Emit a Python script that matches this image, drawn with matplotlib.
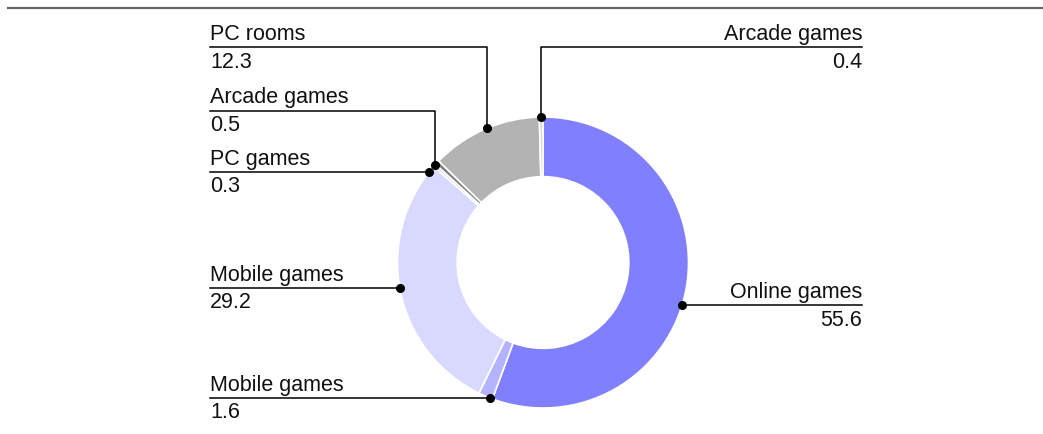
import numpy as np
import matplotlib.pyplot as plt

# Data (clockwise from 12 o'clock)
labels = ["Online games", "Mobile games", "Mobile games", "PC games",
          "Arcade games", "PC rooms", "Arcade games"]
values = [55.6, 1.6, 29.2, 0.3, 0.5, 12.3, 0.4]
colors = ["#8080ff", "#b3b3ff", "#d9d9ff", "#d9d9d9",
          "#808080", "#b3b3b3", "#d9d9d9"]

# label layout: side, line y (px from top), elbow x (px) or None
label_side = ["right", "left", "left", "left", "left", "left", "right"]
label_line_y = [305, 398, 288, 172, 110.5, 47, 47]
label_elbow_x = [None, None, None, None, 435, 487, 541]

W, H = 1043, 434
cx, cy, R = 543, H - 262.5, 145.5
left_x, right_x = 210, 862

fig = plt.figure(figsize=(W / 100, H / 100), dpi=100)
ax = fig.add_axes([0, 0, 1, 1])
ax.axis("off")

ax.pie(values, colors=colors, startangle=90, counterclock=False,
       center=(cx, cy), radius=R,
       wedgeprops=dict(width=R * 0.41, edgecolor="white", linewidth=1.2))
ax.set_xlim(0, W)
ax.set_ylim(0, H)
ax.set_aspect("equal")

# top rule
ax.plot([7, W], [H - 7.5, H - 7.5], color="#666666", lw=1.6, solid_capstyle="butt")

font = dict(family="Liberation Sans", fontsize=15.5, color="#111111")

for name, val, side, ly, ex in zip(labels, values, label_side, label_line_y, label_elbow_x):
    y = H - ly
    tx = left_x if side == "left" else right_x
    ha = "left" if side == "left" else "right"
    if ex is None:
        # dot where the leader line meets the outer edge
        dx = np.sqrt(R ** 2 - (y - cy) ** 2)
        px = cx - dx if side == "left" else cx + dx
        py = y
        xs, ys = [tx, px], [y, y]
    else:
        px = ex
        py = cy + np.sqrt(R ** 2 - (ex - cx) ** 2)
        xs, ys = [tx, ex, ex], [y, y, py]
    ax.plot(xs, ys, color="black", lw=1.1, zorder=5)
    ax.plot(px, py, "o", color="black", ms=5.5, zorder=6)
    ax.text(tx, y + 2, name, ha=ha, va="bottom", **font)
    ax.text(tx, y - 4.5, str(val), ha=ha, va="top", **font)

fig.savefig("out.png", dpi=100)
